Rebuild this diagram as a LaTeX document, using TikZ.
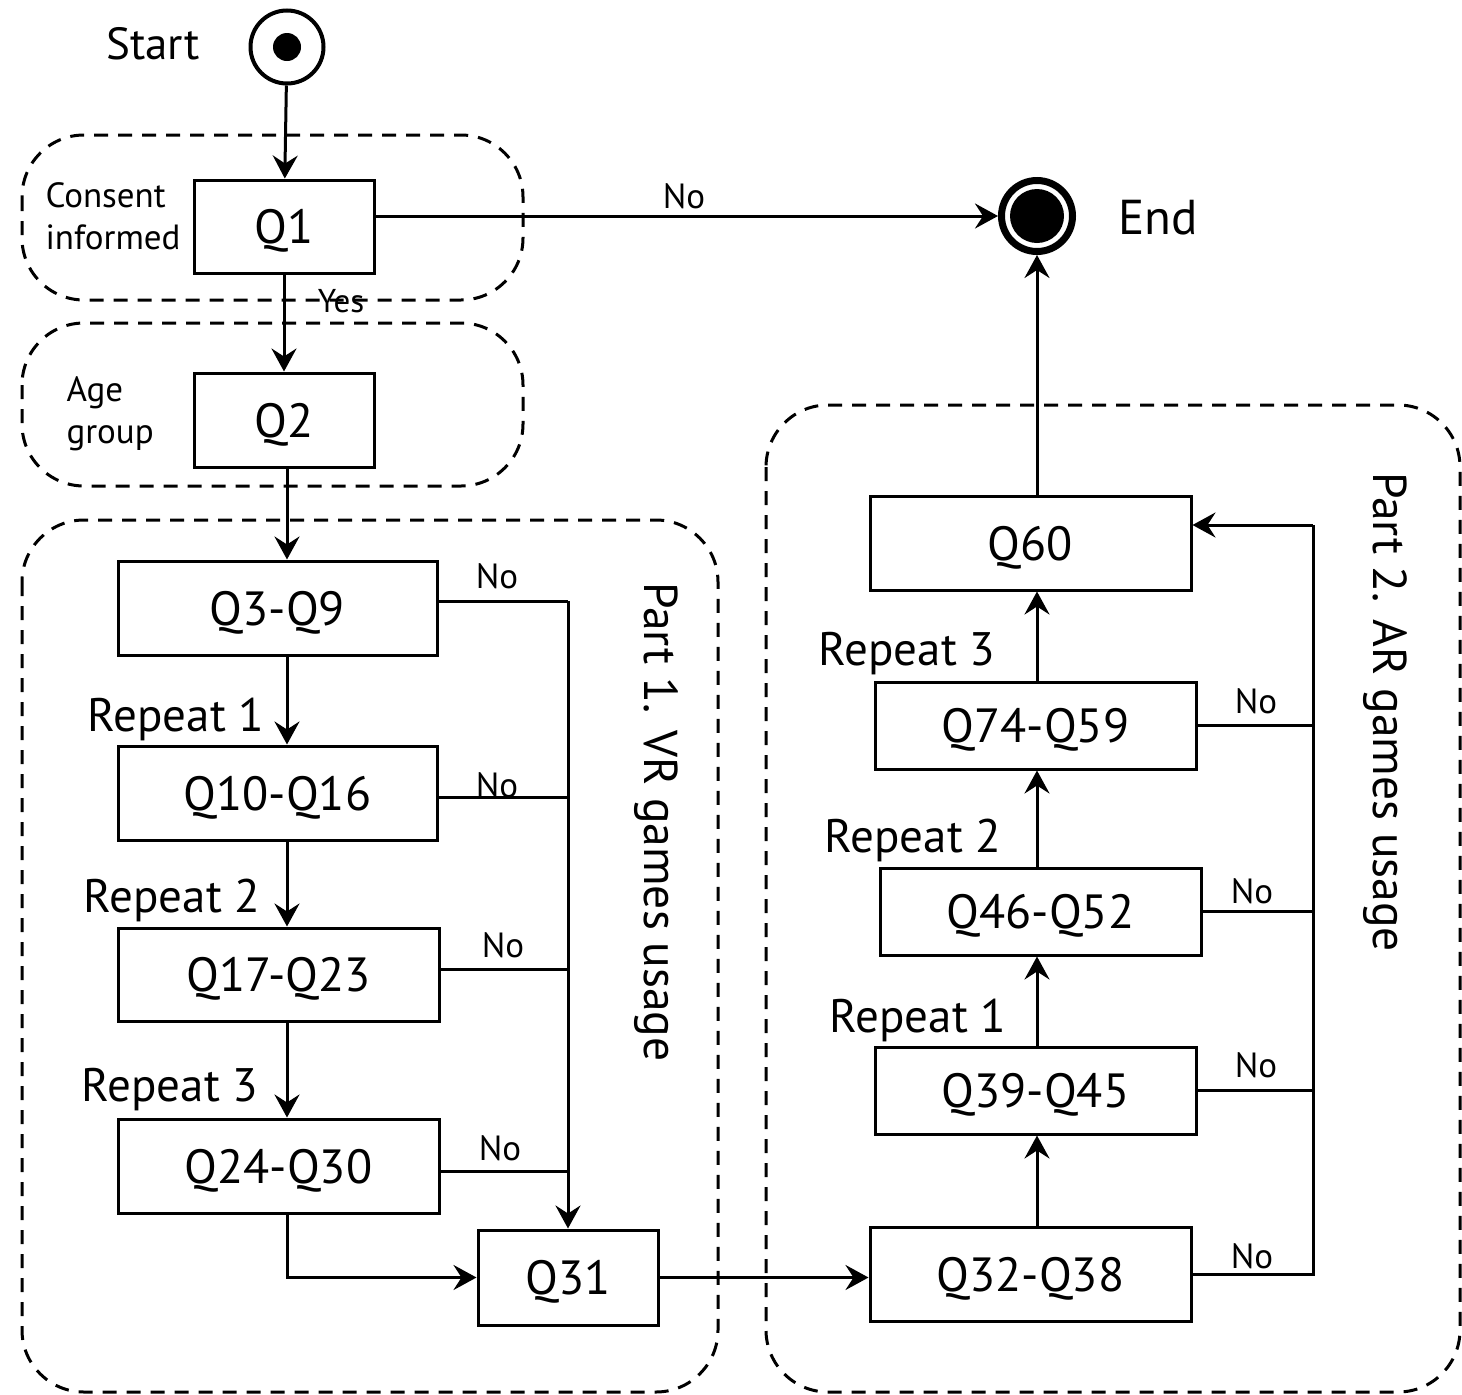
\documentclass[tikz,border=0pt]{standalone}
\usepackage{fontspec}
\setmainfont{PT Sans}
\usetikzlibrary{arrows.meta}
\begin{document}
\begin{tikzpicture}[x=1pt,y=-1pt,
  box/.style={draw,line width=3pt,inner sep=0pt,text height=34pt,text depth=0pt,font=\fontsize{48}{52}\selectfont},
  grp/.style={draw,line width=3pt,dash pattern=on 14pt off 10pt,rounded corners=62pt},
  arr/.style={line width=3pt,-{Stealth[length=23pt,width=25pt,inset=8pt]}},
  ln/.style={line width=3pt},
  nolbl/.style={font=\fontsize{35}{38}\selectfont},
  rep/.style={font=\fontsize{47}{50}\selectfont},
  side/.style={font=\fontsize{35}{42}\selectfont,align=left},
  part/.style={font=\fontsize{47.5}{52}\selectfont,rotate=-90}]
\useasboundingbox (0,0) rectangle (1462,1395);
% groups
\draw[grp] (22,135) rectangle (523,300);
\draw[grp] (22,323) rectangle (523,486);
\draw[grp] (22,520) rectangle (718,1392);
\draw[grp] (766,405) rectangle (1460,1392);
% start / end
\node[circle,draw,line width=4pt,minimum size=73pt,inner sep=0pt] (start) at (287,47) {};
\fill (start.center) circle (14pt);
\node[font=\fontsize{45}{48}\selectfont] (startl) at (153,44) {Start};
\node[circle,draw,line width=7pt,minimum size=71pt,inner sep=0pt] (endn) at (1037,216) {};
\fill (endn.center) circle (27pt);
\node[font=\fontsize{49}{52}\selectfont] (endl) at (1158,218) {End};
% boxes
\node[box,minimum width=180pt,minimum height=93pt] (q1) at (284,226.5) {Q1};
\node[box,minimum width=180pt,minimum height=94pt] (q2) at (284,420) {Q2};
\node[box,minimum width=319pt,minimum height=94pt] (q3) at (277.5,608) {Q3-Q9};
\node[box,minimum width=319pt,minimum height=94pt] (q10) at (277.5,793) {Q10-Q16};
\node[box,minimum width=321pt,minimum height=93pt] (q17) at (278.5,974.5) {Q17-Q23};
\node[box,minimum width=321pt,minimum height=94pt] (q24) at (278.5,1166) {Q24-Q30};
\node[box,minimum width=180pt,minimum height=95pt] (q31) at (568,1277.5) {Q31};
\node[box,minimum width=321pt,minimum height=94pt] (q32) at (1030.5,1274) {Q32-Q38};
\node[box,minimum width=321pt,minimum height=87pt] (q39) at (1035.5,1090.5) {Q39-Q45};
\node[box,minimum width=321pt,minimum height=87pt] (q46) at (1040.5,911.5) {Q46-Q52};
\node[box,minimum width=321pt,minimum height=87pt] (q74) at (1035.5,725.5) {Q74-Q59};
\node[box,minimum width=321pt,minimum height=94pt] (q60) at (1030.5,543) {Q60};
% side labels
\node[side,anchor=west] (cons) at (42,216) {Consent\\informed};
\node[side,anchor=west] (age) at (63,414) {Age\\group};
\node[part] (p1) at (656,822) {Part 1. VR games usage};
\node[part] (p2) at (1385,712) {Part 2. AR games usage};
% left flow
\draw[arr] (start) -- (q1);
\draw[arr] (q1) -- (q2);
\node[font=\fontsize{33}{35}\selectfont] (yes) at (341,301) {Yes};
\draw[arr] (q2.south -| start) -- (q3.north -| start);
\draw[arr] (q3.south -| start) -- (q10.north -| start);
\draw[arr] (q10.south -| start) -- (q17.north -| start);
\draw[arr] (q17.south -| start) -- (q24.north -| start);
\draw[arr] (q24.south -| start) |- (q31.west);
\node[rep] (r1) at (176,719) {Repeat 1};
\node[rep] (r2) at (172,900) {Repeat 2};
\node[rep] (r3) at (170,1090) {Repeat 3};
% No to end
\draw[arr] (q1.east |- endn.west) -- (endn.west);
\node[nolbl] (noend) at (684,196) {No};
% left bus
\coordinate (busL) at (568,601);
\draw[ln] (q3.east |- busL) -- (busL);
\draw[arr] (busL) -- (q31.north);
\draw[ln] (q10.east |- 0,797) -- (q31.north |- 0,797);
\draw[ln] (q17.east |- 0,969) -- (q31.north |- 0,969);
\draw[ln] (q24.east |- 0,1171) -- (q31.north |- 0,1171);
\node[nolbl] (n1) at (497,576) {No};
\node[nolbl] (n2) at (497,785) {No};
\node[nolbl] (n3) at (503,945) {No};
\node[nolbl] (n4) at (500,1148) {No};
% Q31 to Q32
\draw[arr] (q31.east) -- (q31.east -| q32.west);
% right flow
\draw[arr] (q32.north -| endn) -- (q39.south -| endn);
\draw[arr] (q39.north -| endn) -- (q46.south -| endn);
\draw[arr] (q46.north -| endn) -- (q74.south -| endn);
\draw[arr] (q74.north -| endn) -- (q60.south -| endn);
\draw[arr] (q60.north -| endn) -- (endn.south);
\node[rep] (r1b) at (918,1020) {Repeat 1};
\node[rep] (r2b) at (913,840) {Repeat 2};
\node[rep] (r3b) at (907,654) {Repeat 3};
% right bus
\coordinate (busR) at (1313,525);
\draw[ln] (q32.east) -- (q32.east -| busR) -- (busR);
\draw[arr] (busR) -- (busR -| q60.east);
\draw[ln] (q39.east) -- (q39.east -| busR);
\draw[ln] (q46.east) -- (q46.east -| busR);
\draw[ln] (q74.east) -- (q74.east -| busR);
\node[nolbl] (n5) at (1252,1256) {No};
\node[nolbl] (n6) at (1256,1065) {No};
\node[nolbl] (n7) at (1252,891) {No};
\node[nolbl] (n8) at (1256,701) {No};
\end{tikzpicture}
\end{document}
